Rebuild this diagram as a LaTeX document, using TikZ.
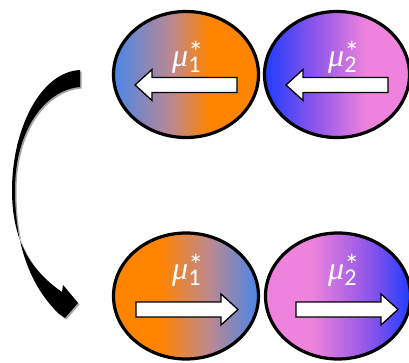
\documentclass[tikz,border=0pt]{standalone}
\usepackage{fontspec}
\newfontfamily\muf{Liberation Serif}
\newfontfamily\digf{Carlito}
\usetikzlibrary{shapes.geometric}
\definecolor{cA}{HTML}{4A86E8}
\definecolor{cO}{HTML}{FF8400}
\definecolor{cM}{HTML}{BC8890}
\definecolor{cB}{HTML}{1E3CFF}
\definecolor{cP}{HTML}{EE82DC}
\definecolor{cV}{HTML}{8C55EA}
\pgfdeclarehorizontalshading{shTL}{100bp}{color(0bp)=(cA); color(25bp)=(cA); color(45bp)=(cM); color(58bp)=(cO); color(100bp)=(cO)}
\pgfdeclarehorizontalshading{shTR}{100bp}{color(0bp)=(cB); color(25bp)=(cB); color(42bp)=(cV); color(60bp)=(cP); color(100bp)=(cP)}
\pgfdeclarehorizontalshading{shBL}{100bp}{color(0bp)=(cO); color(41bp)=(cO); color(58bp)=(cM); color(75bp)=(cA); color(100bp)=(cA)}
\pgfdeclarehorizontalshading{shBR}{100bp}{color(0bp)=(cP); color(41bp)=(cP); color(61bp)=(cV); color(75bp)=(cB); color(100bp)=(cB)}
\newcommand\mulabel[1]{{\muf\itshape\fontsize{32}{32}\selectfont μ}{\digf\fontsize{24}{24}\selectfont\rlap{\raisebox{-6pt}{#1}}}{\digf\fontsize{30}{30}\selectfont\raisebox{4pt}{*}}}
\tikzset{
  ell/.style={ellipse, draw=black, line width=3.2pt, shade, minimum width=145pt, minimum height=126pt, inner sep=0pt},
  lbl/.style={text=white, inner sep=0pt, anchor=base west},
  warrow/.style={draw=black, line width=1.3pt, fill=white, line join=miter},
  bigarrow/.style={fill=black},
  bigshadow/.style={fill=black!35}
}
\newcommand\whitearrow{(-102,-7.5) -- (-17,-7.5) -- (-17,-15.5) -- (0,0) -- (-17,15.5) -- (-17,7.5) -- (-102,7.5) -- cycle}
\begin{document}
\begin{tikzpicture}[x=1pt,y=-1pt]
\useasboundingbox (0,0) rectangle (409,363);
\clip (0,0) rectangle (409,363);
% ellipses
\node[ell, shading=shTL] (e1) at (186,74.5) {};
\node[ell, shading=shTR] (e2) at (337,74.5) {};
\node[ell, shading=shBL] (e3) at (186,296) {};
\node[ell, shading=shBR] (e4) at (338,296) {};
% white arrows
\begin{scope}[shift={(135,85)}, xscale=-1]
  \draw[warrow] \whitearrow;
\end{scope}
\begin{scope}[shift={(286,85)}, xscale=-1]
  \draw[warrow] \whitearrow;
\end{scope}
\begin{scope}[shift={(238,309.5)}]
  \draw[warrow] \whitearrow;
\end{scope}
\begin{scope}[shift={(398,309.5)}]
  \draw[warrow] \whitearrow;
\end{scope}
% labels
\node[lbl] (l1) at (172,67) {\mulabel{1}};
\node[lbl] (l2) at (328,67) {\mulabel{2}};
\node[lbl] (l3) at (172,279) {\mulabel{1}};
\node[lbl] (l4) at (328,279) {\mulabel{2}};
% curved arrow
\begin{scope}[shift={(1.5,1.5)}]
\fill[bigshadow] (80,70) .. controls (40,72) and (12,130) .. (12,190)
  .. controls (12,240) and (30,270) .. (62,292)
  -- (63,285) -- (78,303) -- (65,318) -- (58,313)
  .. controls (30,285) and (15,245) .. (15,190)
  .. controls (15,130) and (45,90) .. (80,87) -- cycle;
\end{scope}
\fill[bigarrow] (80,70) .. controls (40,72) and (12,130) .. (12,190)
  .. controls (12,240) and (30,270) .. (62,292)
  -- (63,285) -- (78,303) -- (65,318) -- (58,313)
  .. controls (30,285) and (15,245) .. (15,190)
  .. controls (15,130) and (45,90) .. (80,87) -- cycle;
\end{tikzpicture}
\end{document}
